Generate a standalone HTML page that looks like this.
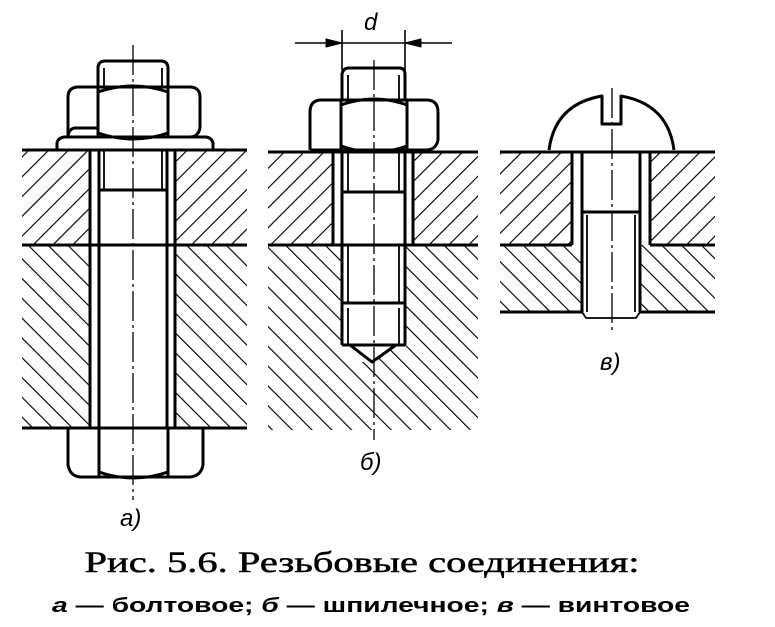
<!DOCTYPE html>
<html><head><meta charset="utf-8"><style>
html,body{margin:0;padding:0;background:#fff;width:775px;height:627px;overflow:hidden}
svg{display:block}
</style></head><body>
<svg width="775" height="627" viewBox="0 0 775 627" xmlns="http://www.w3.org/2000/svg">
<defs>
<pattern id="hu" patternUnits="userSpaceOnUse" width="14" height="14" patternTransform="rotate(45)">
<line x1="0" y1="0" x2="0" y2="14" stroke="#000" stroke-width="2.3"/></pattern>
<pattern id="hd" patternUnits="userSpaceOnUse" width="14" height="14" patternTransform="rotate(-45)">
<line x1="0" y1="0" x2="0" y2="14" stroke="#000" stroke-width="2.3"/></pattern>
</defs>
<g stroke="#000" fill="none" stroke-width="3" stroke-linejoin="round">
<!-- Figure a -->
<rect x="22" y="150" width="68" height="95" fill="url(#hu)" stroke="none"/>
<rect x="175" y="150" width="72" height="95" fill="url(#hu)" stroke="none"/>
<rect x="22" y="245" width="68" height="183" fill="url(#hd)" stroke="none"/>
<rect x="175" y="245" width="72" height="183" fill="url(#hd)" stroke="none"/>
<line x1="22" y1="150" x2="247" y2="150"/>
<line x1="22" y1="245" x2="247" y2="245"/>
<line x1="22" y1="428" x2="247" y2="428"/>
<line x1="90" y1="150" x2="90" y2="428"/>
<line x1="175" y1="150" x2="175" y2="428"/>
<line x1="99" y1="150" x2="99" y2="428"/>
<line x1="167" y1="150" x2="167" y2="428"/>
<line x1="104" y1="150" x2="104" y2="190" stroke-width="1.8"/>
<line x1="162" y1="150" x2="162" y2="190" stroke-width="1.8"/>
<line x1="99" y1="190" x2="167" y2="190"/>
<path d="M57 150 L57 143 Q58 138 64 137 L206 137 Q212 138 213 143 L213 150"/>
<path d="M68 137 Q68 130 74 128 L98 128 M68 137 L68 97 Q68 88 77 87 L98 87 M98 87 L168 87 M168 87 L191 87 Q200 88 200 97 L200 128 Q198 137 190 137 L70 137"/>
<path d="M98 87 L98 137 M168 87 L168 137"/>
<path d="M98 92 Q133 80 168 92 M98 133 Q133 145 168 133"/>
<path d="M98 87 L98 67 Q99 61 105 61 L161 61 Q167 61 168 67 L168 87"/>
<line x1="104" y1="68" x2="104" y2="87" stroke-width="1.8"/>
<line x1="162" y1="68" x2="162" y2="87" stroke-width="1.8"/>
<path d="M68 428 L68 465 Q70 476 80 477 L190 477 Q201 476 203 465 L203 428"/>
<path d="M99 428 L99 477 M168 428 L168 477"/>
<path d="M99 472 Q133 484 168 472"/>
<line x1="133" y1="45" x2="133" y2="500" stroke-width="1.3" stroke-dasharray="30,4,3,4"/>

<!-- Figure b -->
<rect x="268" y="152" width="65" height="93" fill="url(#hu)" stroke="none"/>
<rect x="413" y="152" width="65" height="93" fill="url(#hu)" stroke="none"/>
<path d="M268 245 L342 245 L342 345 L356 362 L374 362 L392 345 L405 345 L405 245 L478 245 L478 430 L268 430 Z" fill="url(#hd)" stroke="none"/>
<line x1="268" y1="152" x2="478" y2="152"/>
<line x1="268" y1="245" x2="478" y2="245"/>
<line x1="333" y1="152" x2="333" y2="245"/>
<line x1="413" y1="152" x2="413" y2="245"/>
<line x1="342" y1="152" x2="342" y2="345"/>
<line x1="405" y1="152" x2="405" y2="345"/>
<line x1="348" y1="152" x2="348" y2="192" stroke-width="1.8"/>
<line x1="399" y1="152" x2="399" y2="192" stroke-width="1.8"/>
<line x1="342" y1="192" x2="405" y2="192"/>
<line x1="348" y1="245" x2="348" y2="303" stroke-width="1.8"/>
<line x1="399" y1="245" x2="399" y2="303" stroke-width="1.8"/>
<line x1="342" y1="303" x2="405" y2="303"/>
<line x1="348" y1="308" x2="348" y2="345" stroke-width="1.8"/>
<line x1="399" y1="308" x2="399" y2="345" stroke-width="1.8"/>
<path d="M342 345 L405 345 M350 345 L372 362 L396 345"/>
<path d="M310 150 L310 112 Q310 101 320 100 L428 100 Q438 101 438 112 L438 140 Q436 150 426 150 L310 150"/>
<path d="M341 100 L341 150 M407 100 L407 150"/>
<path d="M341 105 Q374 93 407 105 M341 146 Q374 158 407 146"/>
<path d="M342 100 L342 74 Q343 68 349 68 L399 68 Q405 68 405 74 L405 100"/>
<line x1="348" y1="75" x2="348" y2="100" stroke-width="1.8"/>
<line x1="399" y1="75" x2="399" y2="100" stroke-width="1.8"/>
<line x1="374" y1="60" x2="374" y2="440" stroke-width="1.3" stroke-dasharray="30,4,3,4"/>
<line x1="342" y1="30" x2="342" y2="70" stroke-width="1.6"/>
<line x1="405" y1="30" x2="405" y2="70" stroke-width="1.6"/>
<line x1="295" y1="43" x2="452" y2="43" stroke-width="1.6"/>
<path d="M342 43 L326 39 L326 47 Z M405 43 L421 39 L421 47 Z" fill="#000" stroke-width="1"/>

<!-- Figure c -->
<rect x="500" y="152" width="72" height="93" fill="url(#hu)" stroke="none"/>
<rect x="650" y="152" width="65" height="93" fill="url(#hu)" stroke="none"/>
<rect x="500" y="245" width="82" height="67" fill="url(#hd)" stroke="none"/>
<rect x="640" y="245" width="75" height="67" fill="url(#hd)" stroke="none"/>
<line x1="500" y1="152" x2="715" y2="152"/>
<line x1="500" y1="245" x2="572" y2="245"/>
<line x1="650" y1="245" x2="715" y2="245"/>
<line x1="500" y1="312" x2="582" y2="312"/>
<line x1="640" y1="312" x2="715" y2="312"/>
<line x1="572" y1="152" x2="572" y2="245"/>
<line x1="650" y1="152" x2="650" y2="245"/>
<line x1="582" y1="152" x2="582" y2="312"/>
<line x1="640" y1="152" x2="640" y2="312"/>
<line x1="582" y1="212" x2="640" y2="212"/>
<line x1="587" y1="215" x2="587" y2="312" stroke-width="1.8"/>
<line x1="635" y1="215" x2="635" y2="312" stroke-width="1.8"/>
<path d="M582 312 L586 318 L636 318 L640 312" stroke-width="1.8"/>
<path d="M549 150 Q555 104 602 96 L602 124 L621 124 L621 96 Q668 104 674 150"/>
<line x1="612" y1="88" x2="612" y2="330" stroke-width="1.3" stroke-dasharray="30,4,3,4"/>
</g>
<g font-family="Liberation Sans, DejaVu Sans, sans-serif" font-style="italic" font-size="24" fill="#000">
<text x="364" y="30">d</text>
<text x="120" y="526">а)</text>
<text x="360" y="470">б)</text>
<text x="600" y="370">в)</text>
</g>
<text x="362" y="572" text-anchor="middle" font-family="Liberation Serif, DejaVu Serif, serif" font-size="30" stroke="#000" stroke-width="0.5" textLength="555" lengthAdjust="spacingAndGlyphs">Рис. 5.6. Резьбовые соединения:</text>
<text x="371" y="612" text-anchor="middle" font-family="Liberation Sans, DejaVu Sans, sans-serif" font-weight="bold" font-size="20" textLength="638" lengthAdjust="spacingAndGlyphs"><tspan font-style="italic">а</tspan> — болтовое; <tspan font-style="italic">б</tspan> — шпилечное;  <tspan font-style="italic">в</tspan> — винтовое</text>
</svg>
</body></html>
